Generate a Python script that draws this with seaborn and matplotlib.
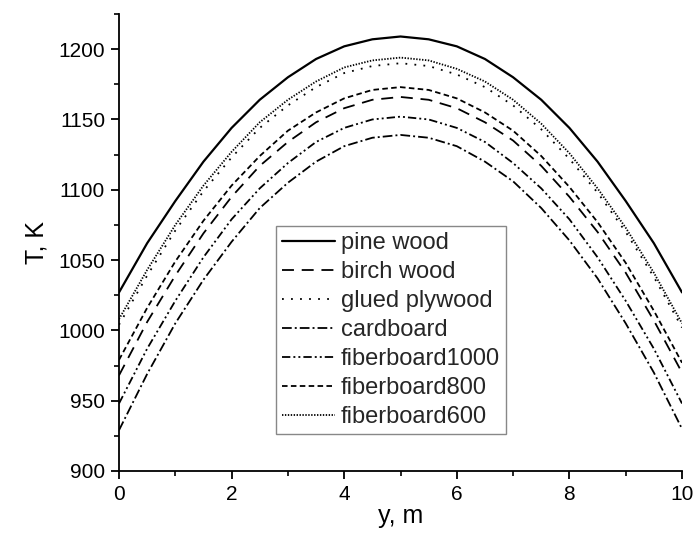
import matplotlib
matplotlib.use("Agg")
import matplotlib.pyplot as plt
import seaborn as sns
import pandas as pd
from matplotlib.ticker import MultipleLocator

# ---- data ----
y_m = [0.0, 0.5, 1.0, 1.5, 2.0, 2.5, 3.0, 3.5, 4.0, 4.5, 5.0,
       5.5, 6.0, 6.5, 7.0, 7.5, 8.0, 8.5, 9.0, 9.5, 10.0]

pine_wood = [1027, 1062, 1092, 1120, 1144, 1164, 1180, 1193, 1202, 1207, 1209,
             1207, 1202, 1193, 1180, 1164, 1144, 1120, 1092, 1062, 1027]
birch_wood = [968, 1006, 1039, 1069, 1095, 1117, 1134, 1148, 1158, 1164, 1166,
              1164, 1158, 1148, 1135, 1117, 1095, 1070, 1041, 1007, 970]
glued_plywood = [1004, 1039, 1071, 1099, 1123, 1144, 1160, 1173, 1183, 1188, 1190,
                 1188, 1182, 1173, 1160, 1143, 1122, 1098, 1070, 1038, 1002]
cardboard = [929, 969, 1005, 1036, 1063, 1087, 1105, 1120, 1131, 1137, 1139,
             1137, 1131, 1120, 1106, 1087, 1064, 1037, 1005, 970, 930]
fiberboard1000 = [948, 987, 1021, 1052, 1079, 1101, 1119, 1134, 1144, 1150, 1152,
                  1150, 1144, 1134, 1119, 1101, 1079, 1052, 1021, 987, 948]
fiberboard800 = [979, 1016, 1049, 1078, 1103, 1124, 1142, 1155, 1165, 1171, 1173,
                 1171, 1165, 1155, 1142, 1124, 1102, 1077, 1048, 1014, 977]
fiberboard600 = [1008, 1043, 1075, 1103, 1127, 1148, 1164, 1177, 1187, 1192, 1194,
                 1192, 1186, 1177, 1164, 1147, 1126, 1101, 1073, 1041, 1005]

series_names = ["pine wood", "birch wood", "glued plywood", "cardboard",
                "fiberboard1000", "fiberboard800", "fiberboard600"]
series_values = [pine_wood, birch_wood, glued_plywood, cardboard,
                 fiberboard1000, fiberboard800, fiberboard600]

x_ticks = [0, 2, 4, 6, 8, 10]
y_ticks = [900, 950, 1000, 1050, 1100, 1150, 1200]

# ---- styling ----
sns.set_theme(style="ticks")
plt.rcParams["font.family"] = ["Liberation Sans", "DejaVu Sans"]
plt.rcParams["lines.scale_dashes"] = False

line_styles = {
    "pine wood": "-",
    "birch wood": (0, (8.6, 5.6)),
    "glued plywood": (0, (1.3, 5.2)),
    "cardboard": (0, (7.0, 2.2, 1.4, 2.2)),
    "fiberboard1000": (0, (6.0, 2.2, 1.4, 2.2, 1.4, 2.2)),
    "fiberboard800": (0, (4.0, 2.4)),
    "fiberboard600": (0, (1.0, 1.1)),
}
line_widths = {n: 1.3 for n in series_names}
line_widths["pine wood"] = 1.6

fig = plt.figure(figsize=(6.94, 5.43), dpi=100)
ax = fig.add_axes([119 / 694, 72 / 543, 563 / 694, 457 / 543])

for name, vals in zip(series_names, series_values):
    df = pd.DataFrame({"y, m": y_m, "T, K": vals})
    sns.lineplot(data=df, x="y, m", y="T, K", ax=ax, color="black",
                 linestyle=line_styles[name], linewidth=line_widths[name],
                 label=name)

ax.set_xlim(0, 10)
ax.set_ylim(900, 1225)
ax.set_xticks(x_ticks)
ax.set_yticks(y_ticks)
ax.xaxis.set_minor_locator(MultipleLocator(1))
ax.yaxis.set_minor_locator(MultipleLocator(25))

for side in ["top", "right"]:
    ax.spines[side].set_visible(False)
for side in ["left", "bottom"]:
    ax.spines[side].set_linewidth(1.3)
    ax.spines[side].set_color("black")

ax.tick_params(which="major", direction="out", length=6, width=1.3,
               labelsize=15, pad=4, colors="black")
ax.tick_params(which="minor", direction="out", length=3.5, width=1.2,
               colors="black")

ax.set_xlabel("y, m", fontsize=18, labelpad=0, color="black")
ax.set_ylabel("T, K", fontsize=18, labelpad=7, color="black")

leg = ax.legend(loc="upper left", bbox_to_anchor=(0.279, 0.536),
                fontsize=17, frameon=True, fancybox=False,
                handlelength=2.25, handletextpad=0.25, labelspacing=0.3,
                borderpad=0.25, borderaxespad=0)
leg.get_frame().set_edgecolor("#888888")
leg.get_frame().set_linewidth(1.0)
leg.get_frame().set_alpha(1)

fig.savefig("out.png", dpi=100)
